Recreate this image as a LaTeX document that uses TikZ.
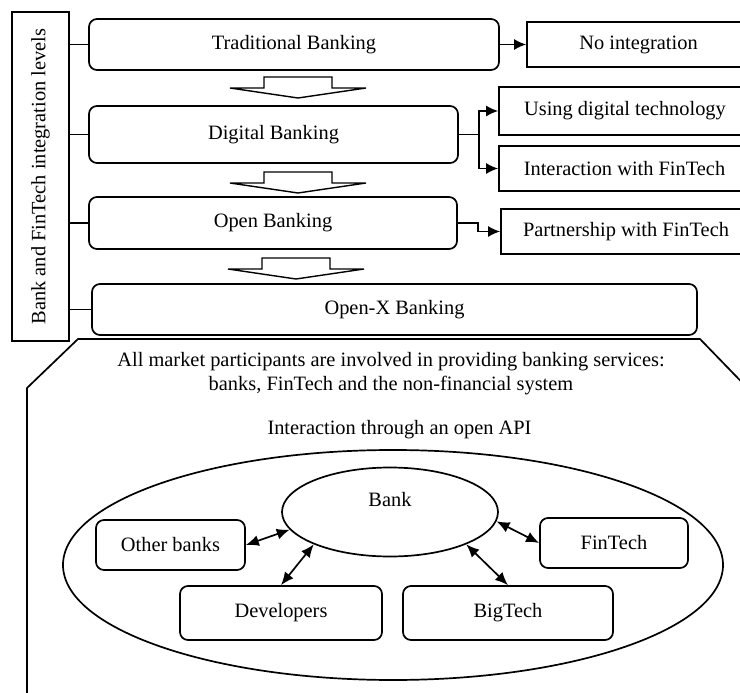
\documentclass[tikz,border=0pt]{standalone}
\usepackage{fontspec}
\setmainfont{Liberation Serif}
\usepackage{tikz}
\usetikzlibrary{arrows.meta,shapes.geometric,calc}
\tikzset{
  lvl/.style={draw=black,line width=1.7pt,rounded corners=8pt,inner sep=0pt},   % level box
  outbox/.style={draw=black,line width=1.7pt,inner sep=0pt},                    % result box
  actor/.style={draw=black,line width=1.7pt,rounded corners=8pt,inner sep=0pt},
  arr/.style={-{Latex[length=12pt,width=11pt]},line width=1.7pt},
  dbl/.style={{Latex[length=13pt,width=11pt]}-{Latex[length=13pt,width=11pt]},line width=1.7pt},
  blk/.style={draw=black,line width=1.4pt,fill=white},
  link/.style={line width=1.7pt},
}
% hollow down arrow between two levels: centre x, top y
\newcommand{\downblk}[2]{%
  \draw[blk] (#1-34,#2) -- (#1+34,#2) -- (#1+34,#2+11) -- (#1+68,#2+11)
    -- (#1,#2+21) -- (#1-68,#2+11) -- (#1-34,#2+11) -- cycle;}

\begin{document}
\begin{tikzpicture}[x=1pt,y=-1pt,font=\fontsize{20.4}{24}\selectfont]
  \useasboundingbox (0,0) rectangle (740,693);
  \clip (0,0) rectangle (740,693);
  % left: side label
  \node[outbox,minimum width=57pt,minimum height=329pt] (side) at (40.5,176.5)
    {\rotatebox{90}{Bank and FinTech integration levels}};
  % levels
  \node[lvl,minimum width=410pt,minimum height=51pt] (trad) at (294,44.5) {Traditional Banking};
  \node[lvl,minimum width=369pt,minimum height=57pt] (dig) at (273.5,134.5) {Digital Banking};
  \node[lvl,minimum width=368pt,minimum height=52pt] (open) at (273,223) {Open Banking};
  \node[lvl,minimum width=605pt,minimum height=51pt] (openx) at (394.5,309.5) {Open-X Banking};
  \foreach \n in {trad,dig,open,openx}
    \draw[link] (\n.west) -- (\n.west -| side.east);
  \downblk{298}{77}
  \downblk{298}{172}
  \downblk{296}{258}
  % right: integration type
  \node[outbox,minimum width=223pt,minimum height=45pt] (noint) at (638.5,44.5) {No integration};
  \node[outbox,minimum width=252pt,minimum height=48pt] (usedig) at (625,111) {Using digital technology};
  \node[outbox,minimum width=251pt,minimum height=45pt] (interact) at (624.5,168.5) {Interaction with FinTech};
  \node[outbox,minimum width=250pt,minimum height=45pt] (partner) at (626,231.5) {Partnership with FinTech};
  \draw[arr] (trad.east) -- (noint.west);
  \draw[arr] (dig.east) -- ++(20,0) |- (usedig.west);
  \draw[arr] (dig.east) -- ++(20,0) |- (interact.west);
  \draw[arr] (open.east) -- ++(20,0) |- (partner.west);
  % bottom: open-x frame
  \draw[link] (27,700) -- (27,388) -- (78,339) -- (700,339) -- (762,403);
  \node[align=center] (allpart) at (391,373.5)
    {All market participants are involved in providing banking services:\\
     banks, FinTech and the non-financial system};
  \node (api) at (399.5,430) {Interaction through an open API};
  \node[ellipse,draw=black,line width=1.7pt,minimum width=660pt,minimum height=230pt] (eco) at (393,565) {};
  \node[ellipse,draw=black,line width=1.7pt,fill=white,minimum width=216pt,minimum height=89pt,
    label={[yshift=12pt]center:Bank}] (bank) at (390,512) {};
  \node[actor,minimum width=149pt,minimum height=50pt] (other) at (170.5,545) {Other banks};
  \node[actor,minimum width=202pt,minimum height=54pt] (dev) at (281,613) {Developers};
  \node[actor,minimum width=210pt,minimum height=54pt] (big) at (508,613) {BigTech};
  \node[actor,minimum width=148pt,minimum height=50pt] (fin) at (614,543) {FinTech};
  \draw[dbl] (other.east) -- (bank.190);
  \draw[dbl] (dev.north) -- (bank.203);
  \draw[dbl] (fin.west) -- (bank.355);
  \draw[dbl] (big.north) -- (bank.337);
\end{tikzpicture}
\end{document}
